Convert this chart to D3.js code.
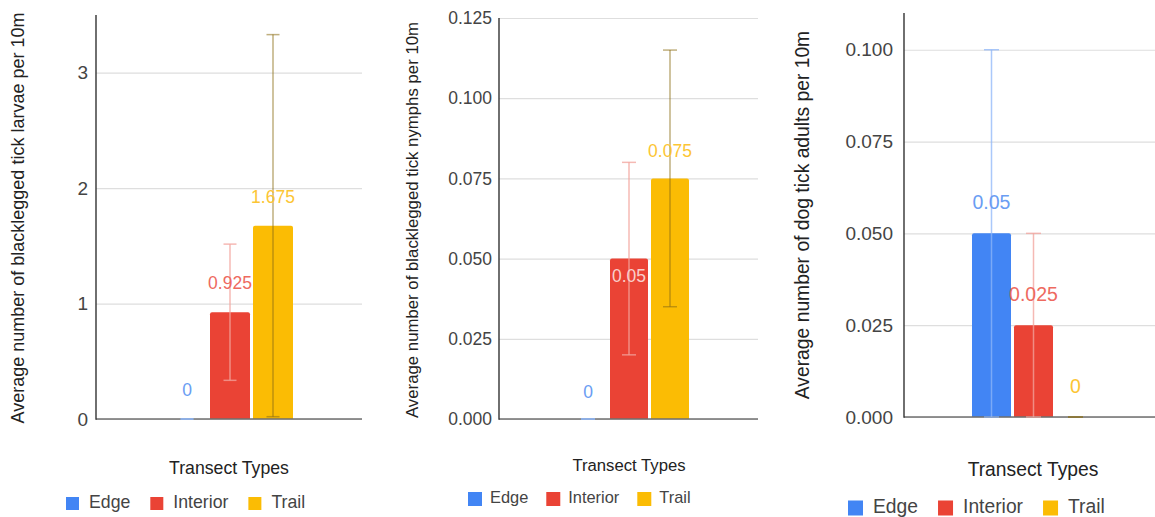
<!DOCTYPE html>
<html>
<head>
<meta charset="utf-8">
<script src="https://cdn.jsdelivr.net/npm/d3@7"></script>
<style>
  html, body { margin: 0; padding: 0; background: #fff; }
  svg { display: block; font-family: "Liberation Sans", Arial, sans-serif; }
</style>
</head>
<body>
<svg id="chart" width="1155" height="517"></svg>
<script>
// ---------------- DATA ----------------
const series = ["Edge", "Interior", "Trail"];
const xTitle = "Transect Types";

const larvaeMeans = [0, 0.925, 1.675];
const larvaeErrors = [0, 0.59, 1.655];
const larvaeTicks = [0, 1, 2, 3];
const larvaeTitle = "Average number of blacklegged tick larvae per 10m";

const nymphMeans = [0, 0.05, 0.075];
const nymphErrors = [0, 0.03, 0.04];
const nymphTicks = [0, 0.025, 0.05, 0.075, 0.1, 0.125];
const nymphTitle = "Average number of blacklegged tick nymphs per 10m";

const dogMeans = [0.05, 0.025, 0];
const dogErrors = [0.05, 0.025, 0];
const dogTicks = [0, 0.025, 0.05, 0.075, 0.1];
const dogTitle = "Average number of dog tick adults per 10m";

// ---------------- STYLE ----------------
const barColors = ["#4285f4", "#ea4335", "#fbbc04"];
const labelColors = ["#6a9df3", "#ee6a5f", "#fcc534"];
const insideLabelColor = "#f9cfcb";
const errColors = ["rgba(141,181,248,0.75)", "rgba(242,163,156,0.76)", "rgba(140,110,20,0.55)"];

const panels = [
  { means: larvaeMeans, errors: larvaeErrors, ticks: larvaeTicks, fmt: d3.format("d"), yMax: 3.5, title: larvaeTitle,
    L: { x0: 96, x1: 362, base: 419, axisTop: 15, cx: 230, step: 43, barW: 40, cap: 13,
         tickFont: 19, tickPad: 8, titleFont: 18, titleX: 24, titleY: 218,
         xtFont: 17.7, xtY: 474, xtX: 229,
         labFont: 17.5, labOff: 23, inside: [false, false, false], insideOff: 0,
         legX: 66, legY: 503.5, legSq: 13, legGap: 10, legItemGap: 20, legFont: 17.7 } },
  { means: nymphMeans, errors: nymphErrors, ticks: nymphTicks, fmt: d3.format(".3f"), yMax: 0.125, title: nymphTitle,
    L: { x0: 499, x1: 758, base: 419, axisTop: 18, cx: 629, step: 41, barW: 38, cap: 14,
         tickFont: 17.5, tickPad: 7, titleFont: 16.8, titleX: 417.5, titleY: 220,
         xtFont: 16.7, xtY: 470.5, xtX: 629,
         labFont: 17.5, labOff: 21, inside: [false, true, false], insideOff: 23,
         legX: 468, legY: 499, legSq: 14, legGap: 8, legItemGap: 18, legFont: 16.4 } },
  { means: dogMeans, errors: dogErrors, ticks: dogTicks, fmt: d3.format(".3f"), yMax: 0.11, title: dogTitle,
    L: { x0: 904, x1: 1162, base: 417, axisTop: 13, cx: 1033.5, step: 42, barW: 39, cap: 15,
         tickFont: 19, tickPad: 11, titleFont: 19.3, titleX: 808.5, titleY: 215,
         xtFont: 19.3, xtY: 476, xtX: 1033,
         labFont: 19.5, labOff: 24, inside: [false, false, false], insideOff: 0,
         legX: 848, legY: 508, legSq: 15, legGap: 10, legItemGap: 20, legFont: 19.3 } }
];

const svg = d3.select("#chart");

function topRoundedBar(x, y, w, h, r) {
  r = Math.min(r, h, w / 2);
  if (h <= 0) return "";
  return `M${x},${y + h}V${y + r}Q${x},${y} ${x + r},${y}H${x + w - r}Q${x + w},${y} ${x + w},${y + r}V${y + h}Z`;
}

panels.forEach(p => {
  const L = p.L;
  const g = svg.append("g");
  const y = d3.scaleLinear().domain([0, p.yMax]).range([L.base, L.base - p.yMax * ((L.base - L.axisTop) / p.yMax)]);
  // scale from top of axis
  const yScale = d3.scaleLinear().domain([0, p.yMax]).range([L.base, L.axisTop]);
  const pad = 1 - L.barW / L.step;
  const xb = d3.scaleBand().domain(series)
    .range([L.cx - 1.5 * L.step, L.cx + 1.5 * L.step])
    .paddingInner(pad).paddingOuter(pad / 2);

  // gridlines + tick labels
  const ax = g.append("g").attr("transform", `translate(${L.x0},0)`)
    .call(d3.axisLeft(yScale).tickValues(p.ticks).tickFormat(p.fmt)
      .tickSize(-(L.x1 - L.x0)).tickPadding(L.tickPad));
  ax.select(".domain").remove();
  ax.selectAll(".tick line").attr("stroke", "#dedede").attr("stroke-width", 1.2);
  ax.selectAll(".tick text").attr("fill", "#444").style("font-size", L.tickFont + "px")
    .style("font-family", "'Liberation Sans', Arial, sans-serif");

  // bars
  g.selectAll(".bar").data(series).enter().append("path")
    .attr("fill", (d, i) => barColors[i])
    .attr("d", (d, i) => {
      const top = yScale(p.means[i]);
      return topRoundedBar(xb(d), top, xb.bandwidth(), L.base - top, 2);
    });

  // baseline & axis line
  g.append("line").attr("x1", L.x0).attr("x2", L.x1).attr("y1", L.base).attr("y2", L.base)
    .attr("stroke", "#6f6f6f").attr("stroke-width", 1.4);
  g.append("line").attr("x1", L.x0).attr("x2", L.x0).attr("y1", L.axisTop).attr("y2", L.base + 0.7)
    .attr("stroke", "#333").attr("stroke-width", 1.4);

  // error bars
  series.forEach((s, i) => {
    const cx = xb(s) + xb.bandwidth() / 2;
    const lo = yScale(Math.max(0, p.means[i] - p.errors[i]));
    const hi = yScale(p.means[i] + p.errors[i]);
    const eg = g.append("g").attr("stroke", errColors[i]).attr("stroke-width", 1.5);
    eg.append("line").attr("x1", cx).attr("x2", cx).attr("y1", lo).attr("y2", hi);
    eg.append("line").attr("x1", cx - L.cap / 2).attr("x2", cx + L.cap / 2).attr("y1", hi).attr("y2", hi);
    eg.append("line").attr("x1", cx - L.cap / 2).attr("x2", cx + L.cap / 2).attr("y1", lo).attr("y2", lo);
  });

  // data labels
  series.forEach((s, i) => {
    const cx = xb(s) + xb.bandwidth() / 2;
    const top = yScale(p.means[i]);
    const inside = L.inside[i];
    g.append("text")
      .attr("x", cx)
      .attr("y", inside ? top + L.insideOff : top - L.labOff)
      .attr("text-anchor", "middle")
      .attr("fill", inside ? insideLabelColor : labelColors[i])
      .style("font-size", L.labFont + "px")
      .text(String(p.means[i]));
  });

  // y title
  g.append("text")
    .attr("transform", `translate(${L.titleX},${L.titleY}) rotate(-90)`)
    .attr("text-anchor", "middle").attr("fill", "#222")
    .style("font-size", L.titleFont + "px")
    .text(p.title);

  // x title
  g.append("text").attr("x", L.xtX).attr("y", L.xtY)
    .attr("text-anchor", "middle").attr("fill", "#222")
    .style("font-size", L.xtFont + "px").text(xTitle);

  // legend
  let lx = L.legX;
  series.forEach((s, i) => {
    g.append("rect").attr("x", lx).attr("y", L.legY - L.legSq / 2)
      .attr("width", L.legSq).attr("height", L.legSq).attr("fill", barColors[i]);
    const t = g.append("text").attr("x", lx + L.legSq + L.legGap)
      .attr("y", L.legY + L.legFont * 0.255)
      .attr("fill", "#444").style("font-size", L.legFont + "px").text(s);
    lx += L.legSq + L.legGap + t.node().getComputedTextLength() + L.legItemGap;
  });
});
</script>
</body>
</html>
